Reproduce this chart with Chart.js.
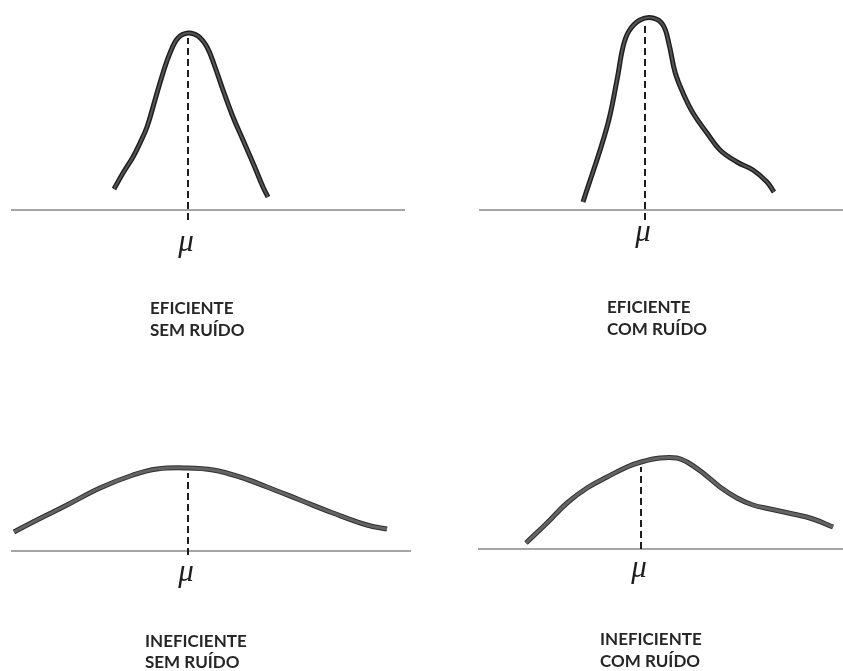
<!DOCTYPE html>
<html>
<head>
<meta charset="utf-8">
<script src="https://cdn.jsdelivr.net/npm/chart.js@4.4.1/dist/chart.umd.min.js"></script>
<style>
  html, body { margin: 0; padding: 0; background: #fff; width: 843px; height: 671px; overflow: hidden; }
  #wrap { position: relative; width: 843px; height: 671px; }
  canvas { position: absolute; }
</style>
</head>
<body>
<div id="wrap">
  <canvas id="c0" width="421" height="345" style="left:0;top:0"></canvas>
  <canvas id="c1" width="422" height="345" style="left:421px;top:0"></canvas>
  <canvas id="c2" width="421" height="326" style="left:0;top:345px"></canvas>
  <canvas id="c3" width="422" height="326" style="left:421px;top:345px"></canvas>
</div>
<script>
// Sampling distributions of an estimator: x = distance from the true mean μ,
// y = height of the curve above the horizontal axis.
const efSemX = [-7.4, -6.5, -5.5, -4.8, -4.1, -3.3, -2.5, -1.8, -1.0, 0, 1.0, 1.9, 2.7, 3.5, 4.5, 5.5, 6.5, 7.5, 8.0];
const efSemY = [2.1, 3.7, 5.3, 6.7, 8.3, 11.0, 13.7, 15.7, 17.2, 17.7, 17.4, 16.3, 14.3, 12.0, 9.3, 7.0, 4.7, 2.3, 1.3];

const efComX = [-6.2, -3.8, -2.8, -2.2, -1.6, -0.5, 0.8, 1.8, 2.4, 3.0, 3.8, 4.8, 6.2, 7.5, 9.2, 10.8, 12.2, 12.9];
const efComY = [0.8, 8.3, 13.0, 16.3, 17.9, 19.0, 19.2, 18.5, 16.6, 13.8, 11.7, 9.7, 7.7, 6.0, 4.8, 4.0, 2.8, 1.8];

const inefSemX = [-17.4, -15.5, -12.1, -8.8, -5.5, -3.1, 0, 2.5, 5.2, 7.9, 11.2, 14.5, 17.9, 19.9];
const inefSemY = [1.9, 2.9, 4.6, 6.3, 7.6, 8.2, 8.3, 8.1, 7.4, 6.4, 5.1, 3.8, 2.6, 2.2];

const inefComX = [-11.5, -9.4, -7.4, -5.4, -3.4, -1.4, 0, 1.9, 3.6, 4.6, 6.2, 7.9, 9.6, 11.2, 12.9, 15.2, 17.2, 19.2];
const inefComY = [0.6, 2.6, 4.6, 6.1, 7.2, 8.2, 8.7, 9.1, 9.1, 8.7, 7.6, 6.2, 5.1, 4.4, 4.0, 3.5, 3.0, 2.2];

const captions = [
  ['EFICIENTE', 'SEM RUÍDO'],
  ['EFICIENTE', 'COM RUÍDO'],
  ['INEFICIENTE', 'SEM RUÍDO'],
  ['INEFICIENTE', 'COM RUÍDO']
];
const meanLabel = 'μ';

// Panel layout (canvas pixels); one value unit = 10 px on both axes.
const UNIT = 10;
const panels = [
  { id: 'c0', xs: efSemX,   ys: efSemY,   mu: 188, base: 210, axis: [11, 405], dashLow: -1.0, muDy: 41, cap: [150, 314, 336], outer: '#202020', inner: '#555555', innerW: 2 },
  { id: 'c1', xs: efComX,   ys: efComY,   mu: 224, base: 210, axis: [58, 422], dashLow: -1.0, muDy: 31, cap: [186, 313, 335], outer: '#202020', inner: '#555555', innerW: 2 },
  { id: 'c2', xs: inefSemX, ys: inefSemY, mu: 188, base: 206, axis: [11, 411], dashLow: -0.4, muDy: 30, cap: [145, 302, 323], outer: '#303030', inner: '#646464', innerW: 3 },
  { id: 'c3', xs: inefComX, ys: inefComY, mu: 220, base: 204, axis: [57, 422], dashLow: 0,    muDy: 28, cap: [179, 300, 322], outer: '#303030', inner: '#646464', innerW: 3 }
];

function valueAtMean(xs, ys) {
  for (let i = 0; i < xs.length - 1; i++) {
    if (xs[i] <= 0 && xs[i + 1] >= 0) {
      const t = (0 - xs[i]) / (xs[i + 1] - xs[i]);
      return ys[i] + t * (ys[i + 1] - ys[i]);
    }
  }
  return 0;
}

const labelPlugin = {
  id: 'panelLabels',
  afterDraw(chart, args, opts) {
    const { ctx, scales } = chart;
    const px = scales.x.getPixelForValue(0);
    const py = scales.y.getPixelForValue(0);
    ctx.save();
    ctx.fillStyle = '#1e1e1e';
    ctx.font = 'italic 31px "Liberation Serif", "DejaVu Serif", serif';
    ctx.textAlign = 'center';
    ctx.textBaseline = 'alphabetic';
    ctx.fillText(meanLabel, px - 2, py + opts.muDy);
    ctx.font = 'bold 17px Lato, "Liberation Sans", sans-serif';
    ctx.fillStyle = '#262626';
    ctx.textAlign = 'left';
    ctx.fillText(opts.lines[0], opts.cap[0], opts.cap[1]);
    ctx.fillText(opts.lines[1], opts.cap[0], opts.cap[2]);
    ctx.restore();
  }
};

panels.forEach((p, k) => {
  const canvas = document.getElementById(p.id);
  const w = canvas.width, h = canvas.height;
  const curve = p.xs.map((x, i) => ({ x: x, y: p.ys[i] }));
  const top = valueAtMean(p.xs, p.ys) - 0.5;
  new Chart(canvas, {
    type: 'line',
    data: {
      datasets: [
        { data: curve, borderColor: p.inner, borderWidth: p.innerW, order: 0,
          tension: 0.4, pointRadius: 0, fill: false },
        { data: curve, borderColor: p.outer, borderWidth: 5, order: 1,
          tension: 0.4, pointRadius: 0, fill: false },
        { data: [{ x: 0, y: p.dashLow }, { x: 0, y: top }], borderColor: '#1e1e1e', borderWidth: 2,
          borderDash: [7, 4], order: 2, pointRadius: 0, fill: false },
        { data: [{ x: (p.axis[0] - p.mu) / UNIT, y: 0 }, { x: (p.axis[1] - p.mu) / UNIT, y: 0 }],
          borderColor: '#4a4a4a', borderWidth: 1, order: 3, pointRadius: 0, fill: false }
      ]
    },
    options: {
      responsive: false,
      animation: false,
      devicePixelRatio: 1,
      layout: { padding: 0 },
      clip: false,
      plugins: {
        legend: { display: false },
        tooltip: { enabled: false },
        panelLabels: { muDy: p.muDy, cap: p.cap, lines: captions[k] }
      },
      scales: {
        x: { type: 'linear', display: false, min: -p.mu / UNIT, max: (w - p.mu) / UNIT },
        y: { type: 'linear', display: false, min: -(h - p.base) / UNIT, max: p.base / UNIT }
      }
    },
    plugins: [labelPlugin]
  });
});
</script>
</body>
</html>
